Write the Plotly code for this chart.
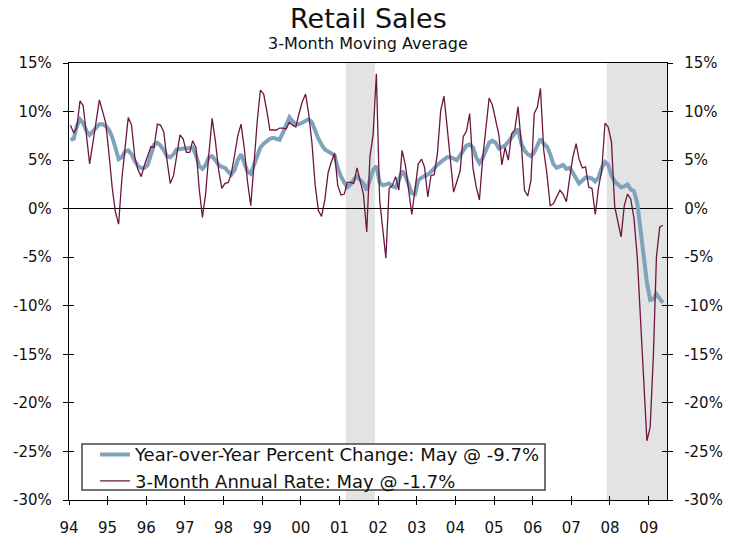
import pandas as pd
import plotly.graph_objects as go

# Monthly data, Jan 1994 - May 2009 (percent)
yoy_change = [
    7.1, 7.2, 8.5, 9.2, 8.8, 8.0, 7.6, 8.0, 8.4, 8.7, 8.7, 8.5,   # 1994
    8.1, 7.3, 6.3, 5.1, 5.3, 5.9, 6.0, 5.6, 4.9, 4.4, 4.2, 4.2,   # 1995
    4.5, 5.5, 6.6, 6.8, 6.5, 6.0, 5.4, 5.3, 5.6, 6.1, 6.2, 6.2,   # 1996
    6.2, 6.2, 6.3, 5.5, 4.4, 4.1, 4.5, 5.3, 5.4, 5.0, 4.5, 4.3,   # 1997
    4.2, 3.8, 3.5, 4.0, 5.0, 5.6, 4.7, 3.8, 3.6, 4.5, 5.6, 6.3,   # 1998
    6.7, 7.0, 7.2, 7.3, 7.2, 7.1, 7.8, 8.7, 9.4, 9.0, 8.7, 8.7,   # 1999
    8.9, 9.0, 9.2, 8.9, 8.0, 7.2, 6.6, 6.1, 5.9, 5.7, 5.5, 4.2,   # 2000
    3.3, 2.7, 2.2, 2.5, 3.0, 3.3, 3.0, 2.6, 1.9, 3.0, 4.0, 4.4,   # 2001
    2.7, 2.4, 2.5, 2.6, 2.3, 2.2, 2.9, 3.9, 3.4, 2.4, 1.6, 1.5,   # 2002
    2.9, 3.2, 3.3, 3.5, 3.8, 4.2, 4.5, 4.8, 5.1, 5.3, 5.3, 5.1,   # 2003
    5.0, 5.5, 6.0, 6.5, 6.6, 6.3, 5.3, 4.7, 5.2, 6.0, 6.8, 7.0,   # 2004
    6.8, 6.2, 6.3, 6.5, 6.9, 7.3, 7.7, 8.2, 6.7, 6.0, 5.6, 5.4,   # 2005
    5.8, 6.6, 7.2, 6.7, 6.4, 5.6, 4.6, 4.2, 4.4, 4.5, 4.1, 4.2,   # 2006
    3.7, 3.0, 2.6, 2.9, 3.2, 3.2, 3.1, 2.8, 3.2, 4.2, 4.8, 4.5,   # 2007
    3.4, 2.8, 2.5, 2.2, 2.3, 2.5, 2.0, 1.8, 0.6, -2.0, -4.8, -7.6,  # 2008
    -9.4, -9.3, -8.8, -9.3, -9.7,                                  # 2009
]

annual_rate_3m = [
    8.6, 7.8, 8.3, 11.1, 10.6, 7.5, 4.6, 6.8, 9.0, 11.2, 10.0, 8.8,   # 1994
    5.5, 2.0, -0.3, -1.6, 3.0, 6.6, 9.4, 8.6, 5.3, 4.0, 3.3, 4.5,     # 1995
    5.5, 6.4, 6.3, 8.7, 8.6, 7.9, 5.0, 2.6, 3.4, 5.6, 7.6, 7.2,       # 1996
    5.8, 5.8, 7.0, 6.3, 2.1, -0.9, 1.5, 5.6, 9.3, 7.0, 4.0, 2.1,      # 1997
    2.6, 2.7, 3.6, 5.5, 7.5, 8.7, 6.3, 2.8, 0.3, 4.5, 9.0, 12.2,      # 1998
    11.8, 10.0, 8.1, 8.1, 8.1, 8.3, 8.3, 8.2, 8.9, 8.6, 8.4, 9.8,     # 1999
    11.0, 11.8, 9.8, 6.8, 2.5, -0.2, -0.8, 0.9, 3.7, 4.8, 5.7, 2.4,   # 2000
    1.4, 1.5, 2.7, 2.7, 2.6, 4.2, 2.7, 1.5, -2.4, 5.3, 7.7, 13.9,     # 2001
    0.9, -2.2, -5.1, 2.1, 2.4, 3.3, 1.9, 6.0, 4.5, 2.0, -0.6, 2.0,    # 2002
    4.6, 5.1, 4.3, 1.2, 3.4, 3.5, 5.7, 10.1, 11.6, 8.4, 5.0, 1.7,     # 2003
    2.8, 3.9, 7.4, 8.0, 9.8, 4.2, 2.3, 0.9, 5.2, 8.6, 11.4, 10.7,     # 2004
    9.3, 7.6, 4.5, 6.3, 5.0, 7.7, 8.1, 10.5, 6.7, 1.9, 1.3, 2.9,      # 2005
    9.8, 10.5, 12.4, 6.0, 3.6, 0.3, 0.5, 1.2, 1.9, 1.5, 0.7, 3.1,     # 2006
    5.3, 6.7, 5.1, 4.2, 4.3, 2.2, 2.1, -0.6, 2.2, 3.9, 8.8, 8.4,      # 2007
    6.9, 0.2, -1.5, -2.9, 0.3, 1.5, 1.0, -1.0, -5.0, -10.8, -17.0, -23.9,  # 2008
    -22.5, -14.9, -5.0, -1.9, -1.7,                                   # 2009
]

months = pd.date_range("1994-01-01", periods=len(yoy_change), freq="MS") + pd.Timedelta(days=14)

recessions = [("2001-03-01", "2001-12-01"), ("2007-12-01", "2009-06-23")]
year_ticks = [f"{y}-01-01" for y in range(1994, 2010)]
year_labels = [f"{y % 100:02d}" for y in range(1994, 2010)]
y_ticks = list(range(-30, 20, 5))
y_labels = [f"{v}%" for v in y_ticks]

name_yoy = "Year-over-Year Percent Change: May @ -9.7%"
name_rate = "3-Month Annual Rate: May @ -1.7%"

BLUE = "#7FA3BB"
RED = "#6A1640"
FONT = "DejaVu Sans"
x_range = ["1994-01-01", "2009-06-23"]
y_range = [-30, 15]

fig = go.Figure()
fig.add_trace(go.Scatter(x=months, y=yoy_change, mode="lines", name=name_yoy,
                         line=dict(color=BLUE, width=4), xaxis="x", yaxis="y"))
fig.add_trace(go.Scatter(x=months, y=annual_rate_3m, mode="lines", name=name_rate,
                         line=dict(color=RED, width=1.3), xaxis="x2", yaxis="y2"))

shapes = []
for start, end in recessions:
    shapes.append(dict(type="rect", xref="x", yref="paper", x0=start, x1=end, y0=0, y1=1,
                       fillcolor="#E3E3E3", line=dict(width=0), layer="below"))
# legend frame (white box behind the legend entries)
shapes.append(dict(type="rect", xref="paper", yref="paper", x0=0.0217, x1=0.796,
                   y0=0.0229, y1=0.128, fillcolor="white",
                   line=dict(color="#444", width=1.5), layer="above"))

axis_font = dict(family=FONT, size=15, color="#111")

fig.update_layout(
    width=738, height=536,
    margin=dict(l=69, r=71, t=63, b=36),
    paper_bgcolor="white", plot_bgcolor="white",
    font=dict(family=FONT, color="#111"),
    shapes=shapes,
    showlegend=True,
    legend=dict(x=0.0435, y=0.146, xanchor="left", yanchor="top",
                borderwidth=0, bgcolor="rgba(0,0,0,0)",
                font=dict(family=FONT, size=18, color="#111"),
                itemwidth=30, tracegroupgap=0),
    xaxis=dict(type="date", range=x_range, tickvals=year_ticks, ticktext=year_labels,
               ticks="outside", ticklen=4, tickcolor="black", tickwidth=1,
               showline=True, linecolor="black", linewidth=1.3, mirror=True,
               showgrid=False, zeroline=False, tickfont=axis_font, ticklabelstandoff=10,
               automargin=False),
    xaxis2=dict(type="date", range=x_range, overlaying="x", side="bottom", anchor="y2",
                tickvals=year_ticks, showticklabels=False,
                ticks="inside", ticklen=4, tickcolor="black", tickwidth=1,
                showline=False, showgrid=False, zeroline=False, automargin=False),
    yaxis=dict(range=y_range, tickvals=y_ticks, ticktext=y_labels,
               ticks="outside", ticklen=5, tickcolor="black", tickwidth=1,
               showline=True, linecolor="black", linewidth=1.3, mirror="ticks",
               showgrid=False, zeroline=True, zerolinecolor="black", zerolinewidth=1.3,
               tickfont=axis_font, ticklabelstandoff=8, automargin=False),
    yaxis2=dict(range=y_range, overlaying="y", side="right", anchor="x2",
                tickvals=y_ticks, ticktext=y_labels,
                ticks="inside", ticklen=5, tickcolor="black", tickwidth=1,
                showline=True, linecolor="black", linewidth=1.3, mirror="ticks",
                showgrid=False, zeroline=False, tickfont=axis_font, ticklabelstandoff=13,
                automargin=False),
    annotations=[
        dict(text="Retail Sales", xref="paper", yref="paper", x=0.5, y=1.102,
             xanchor="center", yanchor="middle", showarrow=False,
             font=dict(family=FONT, size=27, color="#111")),
        dict(text="3-Month Moving Average", xref="paper", yref="paper", x=0.5, y=1.0435,
             xanchor="center", yanchor="middle", showarrow=False,
             font=dict(family=FONT, size=16, color="#111")),
    ],
)

fig.write_html("out.html",
               config={"displayModeBar": False},
               post_script="document.body.style.margin='0';document.body.style.overflow='hidden';")
